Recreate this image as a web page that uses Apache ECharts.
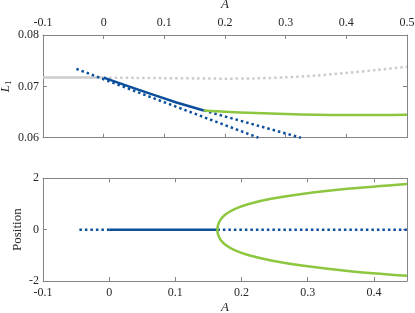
<!DOCTYPE html>
<html><head><meta charset="utf-8">
<script src="https://cdn.jsdelivr.net/npm/echarts@6/dist/echarts.min.js"></script>
<style>html,body{margin:0;padding:0;background:#fff}#c{width:415px;height:313px}</style>
</head><body><div id="c"></div><script>
// ---- Top panel (L1 vs A) ----
const grayStableA = [-0.1, 0];
const grayStableL = [0.0717, 0.0717];
const grayUnstableA = [0, 0.05, 0.1, 0.15, 0.2, 0.25, 0.3, 0.35, 0.4, 0.45, 0.5];
const grayUnstableL = [0.0717, 0.07165, 0.0716, 0.07155, 0.0715, 0.07155, 0.07175, 0.0721, 0.0726, 0.0732, 0.0738];
const blueStableA = [0, 0.04, 0.08, 0.12, 0.165];
const blueStableL = [0.0717, 0.07003, 0.06843, 0.06685, 0.0653];
const blueUnstableLowA = [-0.045, 0.1, 0.255];
const blueUnstableLowL = [0.0734, 0.0669, 0.0600];
const blueUnstableHighA = [0.165, 0.325];
const blueUnstableHighL = [0.0653, 0.0600];
const greenTopA = [0.165, 0.2, 0.25, 0.3, 0.35, 0.4, 0.45, 0.5];
const greenTopL = [0.0653, 0.06505, 0.0648, 0.0646, 0.06448, 0.06442, 0.06442, 0.06448];
// ---- Bottom panel (Position vs A) ----
const posBlueUnstableA1 = [-0.045, 0];
const posBlueUnstableP1 = [0, 0];
const posBlueStableA = [0, 0.1635];
const posBlueStableP = [0, 0];
const posBlueUnstableA2 = [0.1635, 0.45];
const posBlueUnstableP2 = [0, 0];
const posGreenA = [0.45, 0.364, 0.294, 0.2447, 0.211, 0.1895, 0.1761, 0.1685, 0.1647,
                   0.1635, 0.1647, 0.1685, 0.1761, 0.1895, 0.211, 0.2447, 0.294, 0.364, 0.45];
const posGreenP = [-1.80, -1.62, -1.41, -1.2, -1.0, -0.8, -0.6, -0.4, -0.2,
                   0, 0.2, 0.4, 0.6, 0.8, 1.0, 1.2, 1.4, 1.6, 1.78];
// tick settings
const topXTicks = {min: -0.1, max: 0.5, interval: 0.1};
const topYTicks = {min: 0.06, max: 0.08, interval: 0.01};
const botXTicks = {min: -0.1, max: 0.45, interval: 0.1};
const botYTicks = {min: -2, max: 2, interval: 2};

const zip = (a, b) => a.map((v, i) => [v, b[i]]);
const FONT = 'Liberation Serif';
const AX = '#858585', TXT = '#262626';
const BLUE = '#0b4f9c', GREEN = '#8dc63f', GRAY = '#cbcbcb';
const DOT = [2.5, 3];
const FS = 12;

function fmt(v) { return String(Math.round(v * 1000) / 1000); }
function lbl(margin, extra) {
  return Object.assign({show: true, color: TXT, fontFamily: FONT, fontSize: FS, margin: margin, formatter: fmt}, extra || {});
}
function axBase(t, extra) {
  return Object.assign({
    type: 'value', min: t.min, max: t.max, interval: t.interval,
    axisLine: {show: true, onZero: false, lineStyle: {color: AX, width: 1}},
    axisTick: {show: true, inside: true, length: 4, lineStyle: {color: AX}},
    splitLine: {show: false},
    nameMoveOverlap: false,
    axisLabel: lbl(6)
  }, extra);
}
function noLabel(o) { o.axisLabel = {show: false}; return o; }

function line(xi, yi, A, V, color, dotted, smooth) {
  return {
    type: 'line', xAxisIndex: xi, yAxisIndex: yi, data: zip(A, V),
    showSymbol: false, symbol: 'none', smooth: smooth || false, clip: true, animation: false,
    lineStyle: {color: color, width: 2.5, type: dotted ? DOT : 'solid', cap: 'butt', join: 'round'}
  };
}

const chart = echarts.init(document.getElementById('c'), null, {renderer: 'canvas'});
chart.setOption({
  animation: false,
  backgroundColor: '#fff',
  grid: [
    {left: 43, right: 8, top: 35, height: 102.7, containLabel: false, outerBoundsMode: 'none'},
    {left: 43, right: 8, top: 178.3, height: 102.7, containLabel: false, outerBoundsMode: 'none'}
  ],
  xAxis: [
    axBase(topXTicks, {gridIndex: 0, position: 'top', name: 'A', nameLocation: 'middle', nameGap: 24,
      nameTextStyle: {fontFamily: FONT, fontStyle: 'italic', fontSize: 13, color: TXT},
      axisLabel: lbl(6)}),
    noLabel(axBase(topXTicks, {gridIndex: 0, position: 'bottom'})),
    axBase(botXTicks, {gridIndex: 1, position: 'bottom', name: 'A', nameLocation: 'middle', nameGap: 20,
      nameTextStyle: {fontFamily: FONT, fontStyle: 'italic', fontSize: 13, color: TXT},
      axisLabel: lbl(6, {showMaxLabel: false})}),
    noLabel(axBase(botXTicks, {gridIndex: 1, position: 'top'}))
  ],
  yAxis: [
    axBase(topYTicks, {gridIndex: 0, position: 'left', name: '{i|L}{s|1}', nameLocation: 'middle', nameGap: 30, nameRotate: 90,
      nameTextStyle: {color: TXT, rich: {
        i: {fontFamily: FONT, fontStyle: 'italic', fontSize: 13, color: TXT},
        s: {fontFamily: FONT, fontSize: 9, color: TXT, verticalAlign: 'bottom', padding: [6, 0, 0, 0]}}},
      axisLabel: lbl(4)}),
    noLabel(axBase(topYTicks, {gridIndex: 0, position: 'right'})),
    axBase(botYTicks, {gridIndex: 1, position: 'left', name: 'Position', nameLocation: 'middle', nameGap: 19, nameRotate: 90,
      nameTextStyle: {fontFamily: FONT, fontSize: 13, color: TXT},
      axisLabel: lbl(4)}),
    noLabel(axBase(botYTicks, {gridIndex: 1, position: 'right'}))
  ],
  series: [
    line(0, 0, grayStableA, grayStableL, GRAY, false),
    line(0, 0, grayUnstableA, grayUnstableL, GRAY, true, 0.3),
    line(0, 0, blueUnstableLowA, blueUnstableLowL, BLUE, true),
    line(0, 0, blueUnstableHighA, blueUnstableHighL, BLUE, true),
    line(0, 0, blueStableA, blueStableL, BLUE, false),
    line(0, 0, greenTopA, greenTopL, GREEN, false, 0.3),
    line(2, 2, posBlueUnstableA1, posBlueUnstableP1, BLUE, true),
    line(2, 2, posBlueUnstableA2, posBlueUnstableP2, BLUE, true),
    line(2, 2, posBlueStableA, posBlueStableP, BLUE, false),
    line(2, 2, posGreenA, posGreenP, GREEN, false, 0.3)
  ]
});
</script></body></html>
